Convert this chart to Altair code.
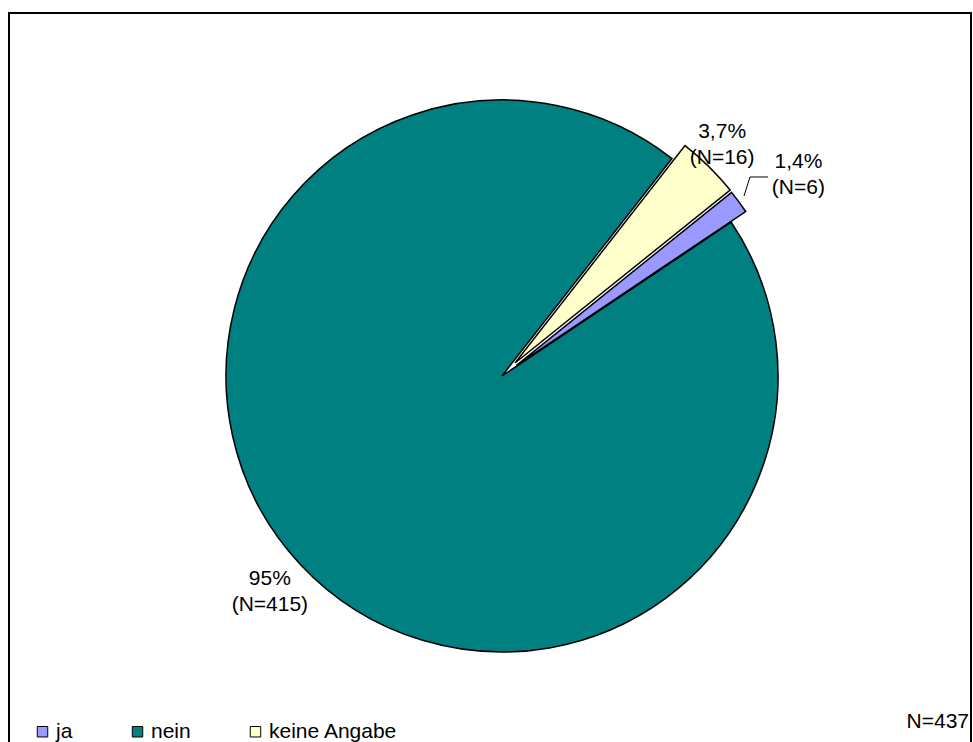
import math
import altair as alt
import pandas as pd

categories = ["ja", "nein", "keine Angabe"]
counts = [6, 415, 16]
pct_labels = ["1,4%", "95%", "3,7%"]
colors = ["#9999FF", "#008080", "#FFFFCC"]
total_label = ["N=437"]

FONT = "Liberation Sans"
FS = 21
CX, CY, R = 502, 376, 276

df = pd.DataFrame({"cat": categories, "n": counts, "pct": pct_labels,
                   "ord": list(range(len(categories)))})

start = math.radians(51.2)
theta_scale = alt.Scale(domain=[0, sum(counts)], range=[start, start + 2 * math.pi])
color_scale = alt.Scale(domain=categories, range=colors)

legend = alt.Legend(title=None, orient="none", legendX=32, legendY=721,
                    direction="horizontal", symbolType="square", symbolSize=110,
                    symbolStrokeColor="black", symbolStrokeWidth=1, symbolOpacity=1,
                    labelFont=FONT, labelFontSize=FS, labelColor="black",
                    columnPadding=54, labelOffset=3)

base = alt.Chart(df).transform_window(
    cum="sum(n)", sort=[alt.SortField("ord")], frame=[None, 0]
).transform_calculate(
    start="datum.cum - datum.n",
    mid="datum.cum - datum.n / 2",
    label="datum.pct + '\\n(N=' + datum.n + ')'",
)


def slice_layer(cat, dx, dy):
    return base.transform_filter(alt.datum.cat == cat).mark_arc(
        stroke="black", strokeWidth=1.5, outerRadius=R, xOffset=dx, yOffset=dy
    ).encode(
        theta=alt.Theta("start:Q", scale=theta_scale, stack=None),
        theta2="cum:Q",
        color=alt.Color("cat:N", scale=color_scale, legend=legend),
        x=alt.value(CX),
        y=alt.value(CY),
    )


def label_layer(cat, radius, dx=0, dy=0):
    return base.transform_filter(alt.datum.cat == cat).mark_text(
        font=FONT, fontSize=FS, lineBreak="\n", lineHeight=26, color="black",
        radius=radius, dx=dx, dy=dy, align="center", baseline="middle"
    ).encode(
        theta=alt.Theta("mid:Q", scale=theta_scale, stack=None),
        text="label:N",
        x=alt.value(CX),
        y=alt.value(CY),
    )


dummy = alt.Chart(pd.DataFrame({"a": [0]}))
frame = dummy.mark_rect(fillOpacity=0, stroke="black", strokeWidth=2).encode(
    x=alt.value(9), x2=alt.value(971), y=alt.value(13), y2=alt.value(770)
)
leader1 = dummy.mark_rule(color="black", strokeWidth=1).encode(
    x=alt.value(744), x2=alt.value(750), y=alt.value(196), y2=alt.value(177)
)
leader2 = dummy.mark_rule(color="black", strokeWidth=1).encode(
    x=alt.value(750), x2=alt.value(768), y=alt.value(177), y2=alt.value(177)
)
total = alt.Chart(pd.DataFrame({"t": total_label})).mark_text(
    font=FONT, fontSize=FS, color="black", align="right", baseline="middle"
).encode(text="t:N", x=alt.value(969), y=alt.value(722))

chart = alt.layer(
    frame,
    slice_layer("nein", 0, 0),
    slice_layer("keine Angabe", 13, -13),
    slice_layer("ja", 14.5, -10.7),
    label_layer("nein", 317, 0, -13),
    label_layer("keine Angabe", 322, -6, -15),
    label_layer("ja", 358, 8, -2),
    leader1,
    leader2,
    total,
).properties(
    width=973, height=742, padding=0, autosize="none", background="white"
).configure_view(stroke=None)

chart.save("out.html", embed_options={"renderer": "svg", "actions": False})
